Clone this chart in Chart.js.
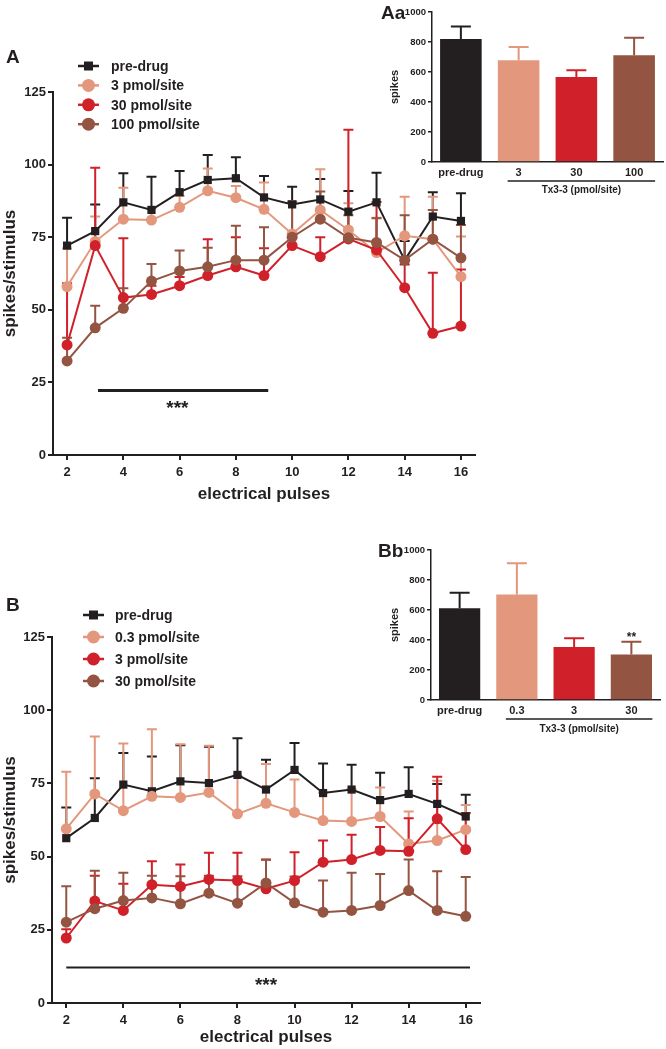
<!DOCTYPE html>
<html>
<head>
<meta charset="utf-8">
<title>Tx3-3 spikes</title>
<script src="https://cdn.jsdelivr.net/npm/chart.js@4.4.1/dist/chart.umd.min.js"></script>
<style>
  html, body { margin: 0; padding: 0; background: #fff; }
  body { position: relative; width: 666px; height: 1049px; overflow: hidden; font-family: "Liberation Sans", Arial, sans-serif; }
  canvas { position: absolute; }
  .tag { position: absolute; font-weight: bold; font-size: 19px; line-height: 1; color: #231f20; }
</style>
</head>
<body>
<canvas id="chartA" width="490" height="510" style="left:0;top:0"></canvas>
<canvas id="chartB" width="490" height="529" style="left:0;top:520px"></canvas>
<canvas id="chartAa" width="286" height="200" style="left:380px;top:0"></canvas>
<canvas id="chartBb" width="286" height="215" style="left:380px;top:530px"></canvas>
<div class="tag" style="left:6px;top:47px">A</div>
<div class="tag" style="left:381px;top:3px">Aa</div>
<div class="tag" style="left:6px;top:595px">B</div>
<div class="tag" style="left:378px;top:541px">Bb</div>
<script>
// x values and ticks shared by both line panels
const pulses = [2, 3, 4, 5, 6, 7, 8, 9, 10, 11, 12, 13, 14, 15, 16];
const pulseTicks = [2, 4, 6, 8, 10, 12, 14, 16];
const rateTicks = [0, 25, 50, 75, 100, 125];
const spikeTicks = [0, 200, 400, 600, 800, 1000];

// panel A
const aNames = ['pre-drug', '3 pmol/site', '30 pmol/site', '100 pmol/site'];
const aPreDrug = [72.1, 77.1, 87.0, 84.4, 90.5, 94.7, 95.3, 88.7, 86.3, 88.0, 83.8, 87.0, 67.1, 82.1, 80.6];
const aPreDrugSem = [9.6, 9.2, 10.0, 11.4, 7.3, 8.6, 7.2, 7.4, 6.1, 7.0, 7.1, 10.2, 6.6, 8.4, 9.5];
const aDose3 = [58.0, 73.5, 81.2, 80.9, 85.3, 91.0, 88.6, 84.6, 76.1, 84.4, 77.5, 69.7, 75.5, 74.3, 61.4];
const aDose3Sem = [13.1, 8.6, 10.8, 4.0, 3.9, 7.7, 4.0, 9.2, 11.4, 14.0, 9.2, 12.0, 13.4, 14.6, 13.8];
const aDose30 = [37.9, 72.1, 54.2, 55.3, 58.3, 61.8, 64.8, 61.8, 72.1, 68.3, 74.4, 70.6, 57.6, 41.9, 44.4];
const aDose30Sem = [21.2, 26.8, 20.4, 3.0, 3.0, 12.5, 10.2, 9.4, 3.0, 6.7, 37.6, 16.5, 8.0, 20.9, 19.5];
const aDose100 = [32.4, 43.8, 50.5, 59.9, 63.4, 64.8, 67.1, 67.1, 75.0, 81.2, 74.8, 73.2, 67.1, 74.3, 67.9];
const aDose100Sem = [8.0, 7.6, 6.9, 5.9, 7.0, 6.6, 11.8, 11.3, 12.0, 9.5, 7.8, 8.3, 15.5, 10.1, 11.3];
const aSigFrom = 3.1, aSigTo = 9.15, aSigLevel = 22.2;
const aSigTextX = 5.92, aSigTextY = 17.4;

// inset Aa
const aaCategories = ['pre-drug', '3', '30', '100'];
const aaSpikes = [820, 678, 567, 711];
const aaSpikesSem = [83, 88, 44, 117];

// panel B
const bNames = ['pre-drug', '0.3 pmol/site', '3 pmol/site', '30 pmol/site'];
const bPreDrug = [56.3, 63.2, 74.6, 72.3, 75.7, 75.1, 77.9, 72.9, 79.6, 71.7, 72.9, 69.3, 71.4, 68.0, 63.7];
const bPreDrugSem = [10.5, 13.6, 10.8, 11.9, 12.3, 12.4, 12.5, 10.2, 9.2, 10.1, 8.5, 9.3, 9.1, 6.8, 7.4];
const bDose03 = [59.5, 71.4, 65.7, 70.6, 70.2, 71.9, 64.6, 68.2, 65.1, 62.3, 62.0, 63.7, 54.3, 55.5, 59.2];
const bDose03Sem = [19.5, 19.6, 22.9, 22.9, 18.2, 16.0, 13.0, 13.4, 11.2, 9.6, 11.0, 9.9, 11.1, 20.4, 8.4];
const bDose3 = [22.2, 34.8, 31.6, 40.4, 39.8, 42.2, 41.8, 39.0, 41.8, 48.1, 49.0, 52.1, 51.8, 62.9, 52.4];
const bDose3Sem = [3.0, 8.7, 9.1, 8.0, 7.5, 9.1, 9.5, 9.9, 9.7, 7.4, 8.5, 8.0, 11.3, 14.4, 12.5];
const bDose30 = [27.6, 32.2, 35.0, 35.9, 33.9, 37.5, 34.1, 41.0, 34.2, 31.0, 31.6, 33.3, 38.4, 31.6, 29.6];
const bDose30Sem = [12.3, 13.0, 9.5, 7.6, 9.4, 6.0, 9.2, 8.0, 9.0, 10.8, 12.9, 10.8, 10.6, 13.4, 13.4];
const bSigFrom = 2, bSigTo = 16.15, bSigLevel = 12.1;
const bSigTextX = 9.0, bSigTextY = 7.2;

// inset Bb
const bbCategories = ['pre-drug', '0.3', '3', '30'];
const bbSpikes = [611, 703, 353, 304];
const bbSpikesSem = [104, 208, 58, 85];

const ink = '#231f20';
const seriesColors = ['#231f20', '#e3977c', '#d0212a', '#935441'];
const fontFamily = '"Liberation Sans", Arial, sans-serif';

Chart.defaults.font.family = fontFamily;
Chart.defaults.color = ink;

function valueOf(d) {
    return (d !== null && typeof d === 'object') ? d.y : d;
}

function drawErrors(chart, opts) {
    const ctx = chart.ctx;
    const yScale = chart.scales.y;
    chart.data.datasets.forEach((ds, di) => {
        if (!ds.sem) return;
        const meta = chart.getDatasetMeta(di);
        ctx.save();
        ctx.lineWidth = opts.lineWidth;
        meta.data.forEach((el, i) => {
            const top = yScale.getPixelForValue(valueOf(ds.data[i]) + ds.sem[i]);
            ctx.strokeStyle = Array.isArray(ds.borderColor) ? ds.borderColor[i] : ds.borderColor;
            ctx.beginPath();
            ctx.moveTo(el.x, el.y);
            ctx.lineTo(el.x, top);
            ctx.moveTo(el.x - opts.capWidth / 2, top);
            ctx.lineTo(el.x + opts.capWidth / 2, top);
            ctx.stroke();
        });
        ctx.restore();
    });
}

// error bars (SEM, upper side only)
const errorBars = {
    id: 'errorBars',
    beforeDatasetsDraw(chart, args, opts) {
        if (!opts.onTop) drawErrors(chart, opts);
    },
    afterDatasetsDraw(chart, args, opts) {
        if (opts.onTop) drawErrors(chart, opts);
    }
};

// GraphPad style legend: short line with marker, then label
const seriesLegend = {
    id: 'seriesLegend',
    afterDraw(chart, args, opts) {
        if (!opts.rowGap) return;
        const ctx = chart.ctx;
        chart.data.datasets.forEach((ds, i) => {
            const y = opts.top + i * opts.rowGap;
            const cx = opts.left + opts.lineLength / 2;
            ctx.save();
            ctx.strokeStyle = ds.borderColor;
            ctx.fillStyle = ds.borderColor;
            ctx.lineWidth = 2.5;
            ctx.beginPath();
            ctx.moveTo(opts.left, y);
            ctx.lineTo(opts.left + opts.lineLength, y);
            ctx.stroke();
            if (ds.pointStyle === 'rect') {
                ctx.fillRect(cx - 4.5, y - 4.5, 9, 9);
            } else {
                ctx.beginPath();
                ctx.arc(cx, y, 6.5, 0, Math.PI * 2);
                ctx.fill();
            }
            ctx.fillStyle = ink;
            ctx.font = 'bold 14px ' + fontFamily;
            ctx.textBaseline = 'middle';
            ctx.fillText(ds.label, opts.textLeft, y + 1);
            ctx.restore();
        });
    }
};

// significance bar with asterisks
const sigBar = {
    id: 'sigBar',
    afterDatasetsDraw(chart, args, opts) {
        if (!opts.label) return;
        const {x, y} = chart.scales;
        const ctx = chart.ctx;
        ctx.save();
        ctx.strokeStyle = ink;
        ctx.lineWidth = opts.lineWidth;
        ctx.beginPath();
        ctx.moveTo(x.getPixelForValue(opts.from), y.getPixelForValue(opts.level));
        ctx.lineTo(x.getPixelForValue(opts.to), y.getPixelForValue(opts.level));
        ctx.stroke();
        ctx.fillStyle = ink;
        ctx.font = 'bold ' + opts.size + 'px ' + fontFamily;
        ctx.textAlign = 'center';
        ctx.textBaseline = 'alphabetic';
        ctx.fillText(opts.label, x.getPixelForValue(opts.textX), y.getPixelForValue(opts.textY) + opts.size * 0.5);
        ctx.restore();
    }
};

// bracket under dose categories + stars over bars
const groupLabel = {
    id: 'groupLabel',
    afterDraw(chart, args, opts) {
        if (!opts.text) return;
        const xs = chart.scales.x;
        const ctx = chart.ctx;
        const a = xs.getPixelForValue(opts.from) - 11;
        const b = xs.getPixelForValue(opts.to) + 21;
        const base = chart.chartArea.bottom;
        ctx.save();
        ctx.strokeStyle = ink;
        ctx.lineWidth = 1.5;
        ctx.beginPath();
        ctx.moveTo(a, base + opts.lineOffset);
        ctx.lineTo(b, base + opts.lineOffset);
        ctx.stroke();
        ctx.fillStyle = ink;
        ctx.font = 'bold 10px ' + fontFamily;
        ctx.textAlign = 'center';
        ctx.textBaseline = 'middle';
        ctx.fillText(opts.text, (a + b) / 2, base + opts.textOffset);
        (opts.stars || []).forEach(s => {
            const ds = chart.data.datasets[0];
            const top = chart.scales.y.getPixelForValue(ds.data[s.index] + ds.sem[s.index]);
            ctx.font = 'bold 12px ' + fontFamily;
            ctx.textBaseline = 'alphabetic';
            ctx.fillText(s.text, xs.getPixelForValue(s.index), top - 1);
        });
        ctx.restore();
    }
};

const axisBorder = { display: true, color: ink, width: 2 };

function lineChart(canvasId, names, means, sems, cfg) {
    const datasets = names.map((name, k) => ({
        label: name,
        data: pulses.map((p, i) => ({ x: p, y: means[k][i] })),
        sem: sems[k],
        borderColor: seriesColors[k],
        backgroundColor: seriesColors[k],
        pointBackgroundColor: seriesColors[k],
        pointBorderColor: seriesColors[k],
        pointBorderWidth: 0,
        pointStyle: k === 0 ? 'rect' : 'circle',
        pointRadius: k === 0 ? 5.8 : 5.5,
        borderWidth: 2,
        tension: 0,
        order: 4 - k
    }));
    return new Chart(document.getElementById(canvasId), {
        type: 'line',
        data: { datasets: datasets },
        options: {
            responsive: false,
            animation: false,
            layout: { padding: cfg.padding },
            plugins: {
                legend: { display: false },
                tooltip: { enabled: false },
                errorBars: { lineWidth: 2, capWidth: 10, onTop: false },
                seriesLegend: cfg.legend,
                sigBar: cfg.sig
            },
            scales: {
                x: {
                    type: 'linear',
                    min: 1.5,
                    max: 16.5,
                    afterBuildTicks: s => { s.ticks = pulseTicks.map(v => ({ value: v })); },
                    afterFit: s => { s.height = cfg.xHeight; },
                    ticks: { font: { size: 13, weight: 'bold' }, color: ink, padding: 5, maxRotation: 0 },
                    grid: { display: true, drawOnChartArea: false, drawTicks: true, tickLength: 5, color: ink, lineWidth: 2 },
                    border: axisBorder,
                    title: { display: true, text: 'electrical pulses', color: ink, font: { size: 17, weight: 'bold' }, padding: { top: 0, bottom: cfg.xTitlePad } }
                },
                y: {
                    min: 0,
                    max: 125,
                    afterBuildTicks: s => { s.ticks = rateTicks.map(v => ({ value: v })); },
                    afterFit: s => { s.width = cfg.yWidth; },
                    ticks: { font: { size: 13, weight: 'bold' }, color: ink, padding: 2 },
                    grid: { display: true, drawOnChartArea: false, drawTicks: true, tickLength: 5, color: ink, lineWidth: 2 },
                    border: axisBorder,
                    title: { display: true, text: 'spikes/stimulus', color: ink, font: { size: 17, weight: 'bold' }, padding: { top: 0, bottom: 0 } }
                }
            }
        },
        plugins: [errorBars, seriesLegend, sigBar]
    });
}

function barChart(canvasId, categories, means, sems, cfg) {
    return new Chart(document.getElementById(canvasId), {
        type: 'bar',
        data: {
            labels: categories,
            datasets: [{
                data: means,
                sem: sems,
                backgroundColor: seriesColors,
                borderColor: seriesColors,
                borderWidth: 0,
                barPercentage: 0.72,
                categoryPercentage: 1
            }]
        },
        options: {
            responsive: false,
            animation: false,
            layout: { padding: cfg.padding },
            plugins: {
                legend: { display: false },
                tooltip: { enabled: false },
                errorBars: { lineWidth: 2, capWidth: 20, onTop: true },
                groupLabel: cfg.group
            },
            scales: {
                x: {
                    afterFit: s => { s.height = cfg.xHeight; },
                    ticks: { font: { size: 11, weight: 'bold' }, color: ink, padding: 4, maxRotation: 0 },
                    grid: { display: false, drawTicks: false, tickLength: 0 },
                    border: { display: true, color: ink, width: 1.5 }
                },
                y: {
                    min: 0,
                    max: 1000,
                    afterBuildTicks: s => { s.ticks = spikeTicks.map(v => ({ value: v })); },
                    afterFit: s => { s.width = cfg.yWidth; },
                    ticks: { font: { size: 9.5, weight: 'bold' }, color: ink, padding: 2, callback: v => String(v) },
                    grid: { display: true, drawOnChartArea: false, drawTicks: true, tickLength: 4, color: ink, lineWidth: 1.5 },
                    border: { display: true, color: ink, width: 1.5 },
                    title: { display: true, text: 'spikes', color: ink, font: { size: 11, weight: 'bold' }, padding: { top: 8, bottom: 0 } }
                }
            }
        },
        plugins: [errorBars, groupLabel]
    });
}

lineChart('chartA', aNames,
    [aPreDrug, aDose3, aDose30, aDose100],
    [aPreDrugSem, aDose3Sem, aDose30Sem, aDose100Sem], {
    padding: { top: 92, right: 15, left: 0, bottom: 0 },
    xHeight: 55, yWidth: 53, xTitlePad: 5,
    legend: { left: 78, lineLength: 21, textLeft: 111, top: 66, rowGap: 19.4 },
    sig: { from: aSigFrom, to: aSigTo, level: aSigLevel, textX: aSigTextX, textY: aSigTextY, label: '***', size: 19, lineWidth: 3 }
});

lineChart('chartB', bNames,
    [bPreDrug, bDose03, bDose3, bDose30],
    [bPreDrugSem, bDose03Sem, bDose3Sem, bDose30Sem], {
    padding: { top: 117, right: 10, left: 0, bottom: 0 },
    xHeight: 46, yWidth: 52, xTitlePad: 1,
    legend: { left: 83, lineLength: 21, textLeft: 115, top: 95, rowGap: 22 },
    sig: { from: bSigFrom, to: bSigTo, level: bSigLevel, textX: bSigTextX, textY: bSigTextY, label: '***', size: 19, lineWidth: 2 }
});

barChart('chartAa', aaCategories, aaSpikes, aaSpikesSem, {
    padding: { top: 12, right: 3, left: 0, bottom: 0 },
    xHeight: 38, yWidth: 52,
    group: { from: 1, to: 3, text: 'Tx3-3 (pmol/site)', lineOffset: 19, textOffset: 28 }
});

barChart('chartBb', bbCategories, bbSpikes, bbSpikesSem, {
    padding: { top: 20, right: 6, left: 0, bottom: 0 },
    xHeight: 45, yWidth: 51,
    group: { from: 1, to: 3, text: 'Tx3-3 (pmol/site)', lineOffset: 19, textOffset: 29, stars: [{ index: 3, text: '**' }] }
});
</script>
</body>
</html>
